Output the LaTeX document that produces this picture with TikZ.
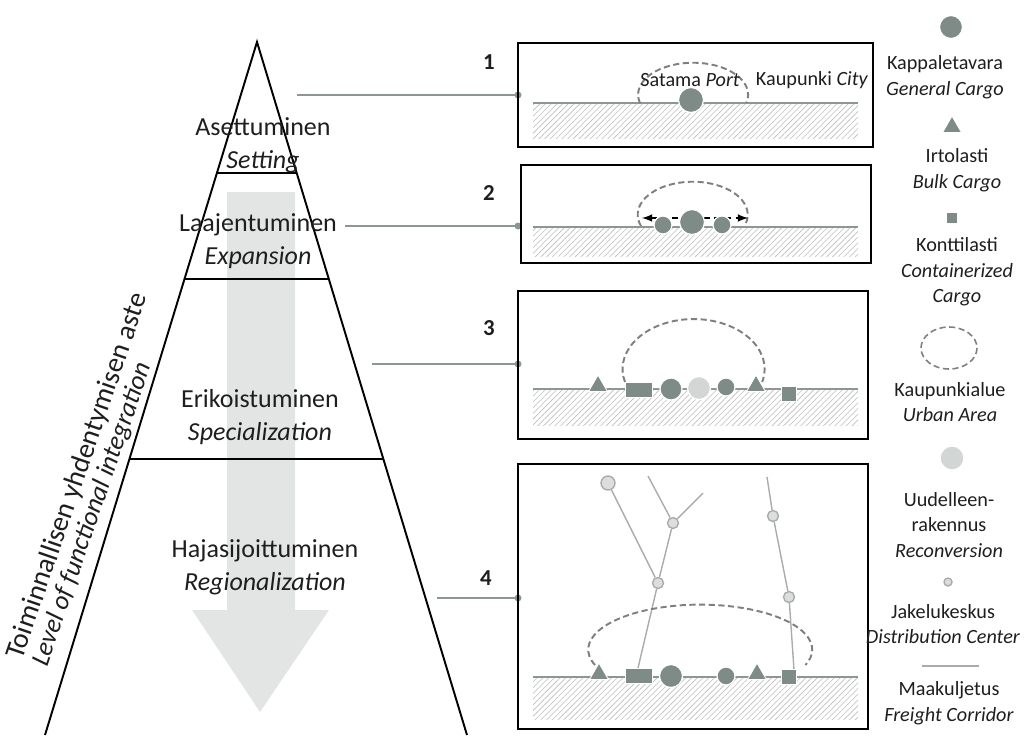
\documentclass[tikz,border=0pt]{standalone}
\usepackage{fontspec}
\setmainfont{Carlito}
\usetikzlibrary{shapes.geometric,patterns.meta}

\definecolor{objgray}{HTML}{7F8B87}
\definecolor{lightobj}{HTML}{D2D6D4}
\definecolor{linkgray}{HTML}{8C9792}
\definecolor{hatchgray}{HTML}{BDBDBD}
\definecolor{arrowgray}{HTML}{E3E5E5}
\definecolor{urbangray}{HTML}{7C807E}
\definecolor{corrgray}{HTML}{A9ACAA}
\definecolor{dcfill}{HTML}{DCDEDD}
\definecolor{inkgray}{HTML}{1E1E1E}

\tikzset{
  stagetext/.style={align=center, text=inkgray, font=\fontsize{14.8}{19}\selectfont},
  keytext/.style={align=center, text=inkgray, font=\fontsize{11.5}{14.5}\selectfont},
  boxtext/.style={text=inkgray, font=\fontsize{11.5}{14}\selectfont},
  axistext/.style={text=inkgray, anchor=base west, inner sep=0pt, rotate=71,
    font=\fontsize{16}{19}\selectfont},
  num/.style={text=inkgray, font=\fontsize{13}{15}\selectfont\bfseries},
  panel/.style={line width=1.3pt},
  link/.style={linkgray, line width=1.4pt},
  ground/.style={linkgray, line width=1.4pt},
  hatch/.style={pattern={Lines[angle=45,distance=2.3pt,line width=0.35pt]}, pattern color=hatchgray},
  urban/.style={urbangray, dash pattern=on 3.5pt off 2pt, line width=1.1pt},
  corridor/.style={corrgray, line width=0.8pt},
  cargo/.style={circle, fill=objgray, draw=white, line width=0.7pt, inner sep=0pt, minimum size=#1},
  recon/.style={circle, fill=lightobj, draw=white, line width=0.7pt, inner sep=0pt, minimum size=#1},
  bulk/.style={regular polygon, regular polygon sides=3, fill=objgray, draw=white, line width=0.5pt,
    inner sep=0pt, minimum size=0.44cm, anchor=side 2},
  box/.style={rectangle, fill=objgray, draw=white, line width=0.6pt, inner sep=0pt,
    minimum width=#1, minimum height=0.3cm},
  depot/.style={circle, fill=dcfill, draw=corrgray, line width=0.8pt, inner sep=0pt, minimum size=#1},
}

\begin{document}
\begin{tikzpicture}[x=0.02cm, y=-0.02cm]
  \useasboundingbox (0,0) rectangle (1027,735);

  % pyramid
  \fill[arrowgray] (227,192) -- (295,192) -- (295,610) -- (329,610) -- (260,712)
    -- (192,610) -- (227,610) -- cycle;
  \coordinate (apex) at (257,42);
  \coordinate (baseL) at (45,735);
  \coordinate (baseR) at (467,735);
  \draw[line width=1.1pt] (baseL) -- (apex) -- (baseR);
  \draw[line width=1.5pt] (217,173) -- (297,173);
  \draw[line width=1.5pt] (185,279) -- (328,279);
  \draw[line width=1.5pt] (130,459) -- (383,459);

  \node[stagetext] (st1) at (263,145) {Asettuminen\\\textit{Setting}};
  \node[stagetext] (st2) at (258,241) {Laajentuminen\\\textit{Expansion}};
  \node[stagetext] (st3) at (260,417) {Erikoistuminen\\\textit{Specialization}};
  \node[stagetext] (st4) at (265,567) {Hajasijoittuminen\\\textit{Regionalization}};

  \node[axistext] (axfi) at (22,661) {Toiminnallisen yhdentymisen aste};
  \node[axistext, font=\fontsize{15}{18}\selectfont\itshape] (axen) at (47,668)
    {Level of functional integration};

  % links to the panels
  \coordinate (s1) at (297,95);  \coordinate (e1) at (518,95);
  \coordinate (s2) at (345,226); \coordinate (e2) at (518,226);
  \coordinate (s3) at (372,364); \coordinate (e3) at (518,364);
  \coordinate (s4) at (437,598); \coordinate (e4) at (518,598);
  \foreach \i in {1,...,4} {
    \draw[link] (s\i) -- (e\i);
    \fill[linkgray] (e\i) circle (3.5);
  }

  \node[num] (n1) at (489,62) {1};
  \node[num] (n2) at (489,193) {2};
  \node[num] (n3) at (489,328) {3};
  \node[num] (n4) at (486,578) {4};

  % panel 1
  \draw[panel] (518,43) rectangle (873,147);
  \fill[hatch] (533,103) rectangle (858,138);
  \draw[ground] (533,103) -- (858,103);
  \draw[urban] (640,103) arc[start angle=165, end angle=375, x radius=55, y radius=32];
  \node[cargo=0.5cm] (gc1) at (691,100) {};
  \node[boxtext] (port) at (690,80) {Satama \textit{Port}};
  \node[boxtext] (city) at (812,80) {Kaupunki \textit{City}};

  % panel 2
  \draw[panel] (521,165) rectangle (871,263);
  \fill[hatch] (533,227) rectangle (858,256);
  \draw[ground] (533,227) -- (858,227);
  \draw[urban] (641,226) arc[start angle=160, end angle=380, x radius=55, y radius=33];
  \draw[black, line width=1pt, dash pattern=on 3.5pt off 2.5pt, <->, >=latex] (642,218) -- (748,218);
  \node[cargo=0.5cm] (gc2) at (692,222) {};
  \node[cargo=0.36cm] (gc2l) at (663,225) {};
  \node[cargo=0.36cm] (gc2r) at (722,225) {};

  % panel 3
  \draw[panel] (518,291) rectangle (868,439);
  \fill[hatch] (533,389) rectangle (858,425);
  \draw[ground] (533,389) -- (858,389);
  \draw[urban] (625,382) arc[start angle=165, end angle=375, x radius=71, y radius=50];
  \node[bulk] (bk3a) at (598,392) {};
  \node[box=0.54cm] (ct3a) at (639,390) {};
  \node[cargo=0.44cm] (gc3a) at (671,389) {};
  \node[recon=0.46cm] (rc3) at (699,388) {};
  \node[cargo=0.36cm] (gc3b) at (726,387) {};
  \node[bulk] (bk3b) at (756,392) {};
  \node[box=0.3cm] (ct3b) at (789,394) {};

  % panel 4
  \draw[panel] (518,464) rectangle (868,729);
  \fill[hatch] (533,677) rectangle (858,719);
  \draw[ground] (533,677) -- (858,677);
  \node[depot=0.28cm] (dc1) at (608,483) {};
  \node[depot=0.22cm] (dc2) at (673,523) {};
  \node[depot=0.22cm] (dc3) at (658,583) {};
  \node[depot=0.22cm] (dc4) at (773,516) {};
  \node[depot=0.22cm] (dc5) at (789,597) {};
  \coordinate (fa) at (648,476);
  \coordinate (fb) at (703,493);
  \coordinate (fc) at (767,477);
  \coordinate (fd) at (638,668);
  \coordinate (fe) at (794,670);
  \draw[corridor] (fa) -- (dc2);
  \draw[corridor] (fb) -- (dc2);
  \draw[corridor] (dc2) -- (dc3);
  \draw[corridor] (dc1) -- (dc3);
  \draw[corridor] (dc3) -- (fd);
  \draw[corridor] (fc) -- (dc4);
  \draw[corridor] (dc4) -- (dc5);
  \draw[corridor] (dc5) -- (fe);
  \draw[urban] (595,665) arc[start angle=160, end angle=380, x radius=112, y radius=45];
  \node[bulk] (bk4a) at (599,680) {};
  \node[box=0.54cm] (ct4a) at (639,676) {};
  \node[cargo=0.46cm] (gc4a) at (671,676) {};
  \node[cargo=0.36cm] (gc4b) at (726,676) {};
  \node[bulk] (bk4b) at (757,680) {};
  \node[box=0.3cm] (ct4b) at (789,677) {};

  % legend
  \node[cargo=0.46cm] (kgc) at (951,27) {};
  \node[keytext] (lgc) at (945,77) {Kappaletavara\\\textit{General Cargo}};
  \node[bulk] (kbk) at (952,133) {};
  \node[keytext] (lbk) at (957,170) {Irtolasti\\\textit{Bulk Cargo}};
  \node[box=0.24cm, minimum height=0.24cm] (kct) at (952,218) {};
  \node[keytext] (lct) at (957,272) {Konttilasti\\\textit{Containerized}\\\textit{Cargo}};
  \draw[urban, line width=0.9pt] (949,348) ellipse[x radius=28, y radius=21];
  \node[keytext] (lua) at (950,402) {Kaupunkialue\\\textit{Urban Area}};
  \node[recon=0.48cm] (krc) at (952,458) {};
  \node[keytext] (lrc) at (949,525) {Uudelleen-\\rakennus\\\textit{Reconversion}};
  \node[depot=0.16cm] (kdc) at (948,582) {};
  \node[keytext] (ldc) at (943,624) {Jakelukeskus\\\textit{Distribution Center}};
  \coordinate (kfa) at (922,666);
  \coordinate (kfb) at (979,666);
  \draw[corridor] (kfa) -- (kfb);
  \node[keytext] (lfc) at (949,703) {Maakuljetus\\\textit{Freight Corridor}};
\end{tikzpicture}
\end{document}
